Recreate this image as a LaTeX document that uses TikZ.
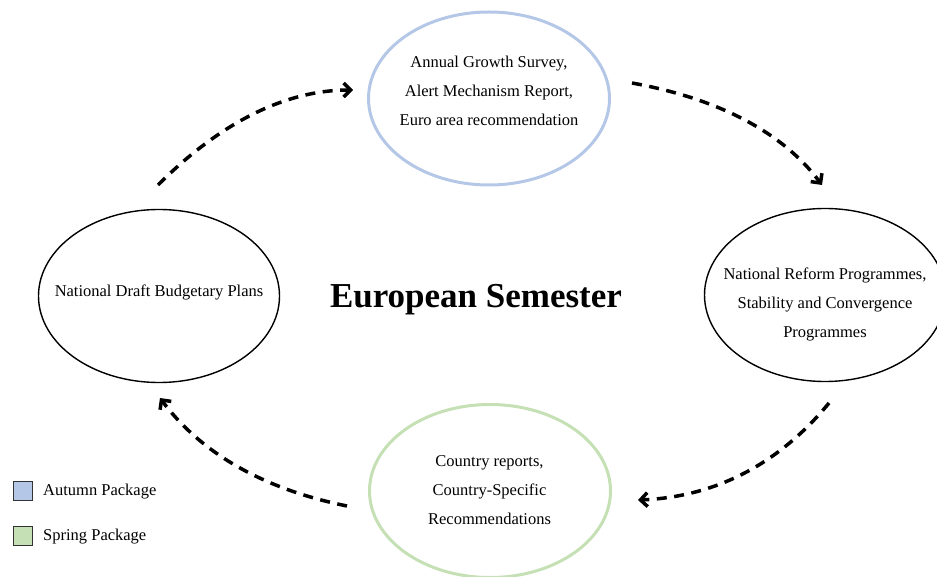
\documentclass[tikz,border=0pt]{standalone}
\usepackage{fontspec}
\setmainfont{Liberation Serif}
\usetikzlibrary{shapes.geometric,arrows.meta}
\definecolor{autumn}{HTML}{B4C7E7}
\definecolor{spring}{HTML}{C5E0B4}
\definecolor{legendedge}{HTML}{333333}
\begin{document}
\begin{tikzpicture}[x=1pt,y=-1pt,
  ellbox/.style={ellipse,draw,inner sep=0pt,minimum width=241pt,minimum height=173pt},
  blackell/.style={ellbox,draw=black,line width=1.4pt},
  txt/.style={align=center,inner sep=0pt,font=\fontsize{16.5}{29}\selectfont},
  flow/.style={line width=3.5pt,dash pattern=on 10pt off 7.5pt,
    -{Straight Barb[length=7pt,width=14pt,line width=3.5pt]}},
  legsq/.style={draw=legendedge,line width=1.5pt,minimum size=19pt,inner sep=0pt},
  legtxt/.style={anchor=west,inner sep=0pt,font=\fontsize{16.5}{20}\selectfont}]
\useasboundingbox (0,0) rectangle (937,577);
% ellipses
\node[ellbox,draw=autumn,line width=3pt] (top) at (489,98.5) {};
\node[blackell] (left) at (159,296) {};
\node[blackell] (right) at (825,295) {};
\node[ellbox,draw=spring,line width=3pt] (bottom) at (490,491) {};
% texts
\node[txt] (toptext) at (489,91) {Annual Growth Survey,\\Alert Mechanism Report,\\Euro area recommendation};
\node[txt] (lefttext) at (159,292) {National Draft Budgetary Plans};
\node[txt] (righttext) at (825,304) {National Reform Programmes,\\Stability and Convergence\\Programmes};
\node[txt] (bottomtext) at (489.5,490) {Country reports,\\Country-Specific\\Recommendations};
\node[inner sep=0pt,font=\fontsize{35}{40}\selectfont\bfseries] (title) at (476,300) {European Semester};
% connector endpoints
\coordinate (a1s) at (158,185); \coordinate (a1e) at (353,90);
\coordinate (a2s) at (632,83);  \coordinate (a2e) at (822,185);
\coordinate (a3s) at (829,403); \coordinate (a3e) at (638,500);
\coordinate (a4s) at (347,506); \coordinate (a4e) at (160,398);
\draw[flow] (a1s) .. controls (221,122) and (286,90) .. (a1e);
\draw[flow] (a2s) .. controls (720,99) and (783,133) .. (a2e);
\draw[flow] (a3s) .. controls (779,464) and (715,497) .. (a3e);
\draw[flow] (a4s) .. controls (263,489) and (201,453) .. (a4e);
% legend
\node[legsq,fill=autumn] (legA) at (23,491) {};
\node[legtxt] (legAtext) at (43,492) {Autumn Package};
\node[legsq,fill=spring] (legS) at (23,536) {};
\node[legtxt] (legStext) at (43,537) {Spring Package};
\end{tikzpicture}
\end{document}
